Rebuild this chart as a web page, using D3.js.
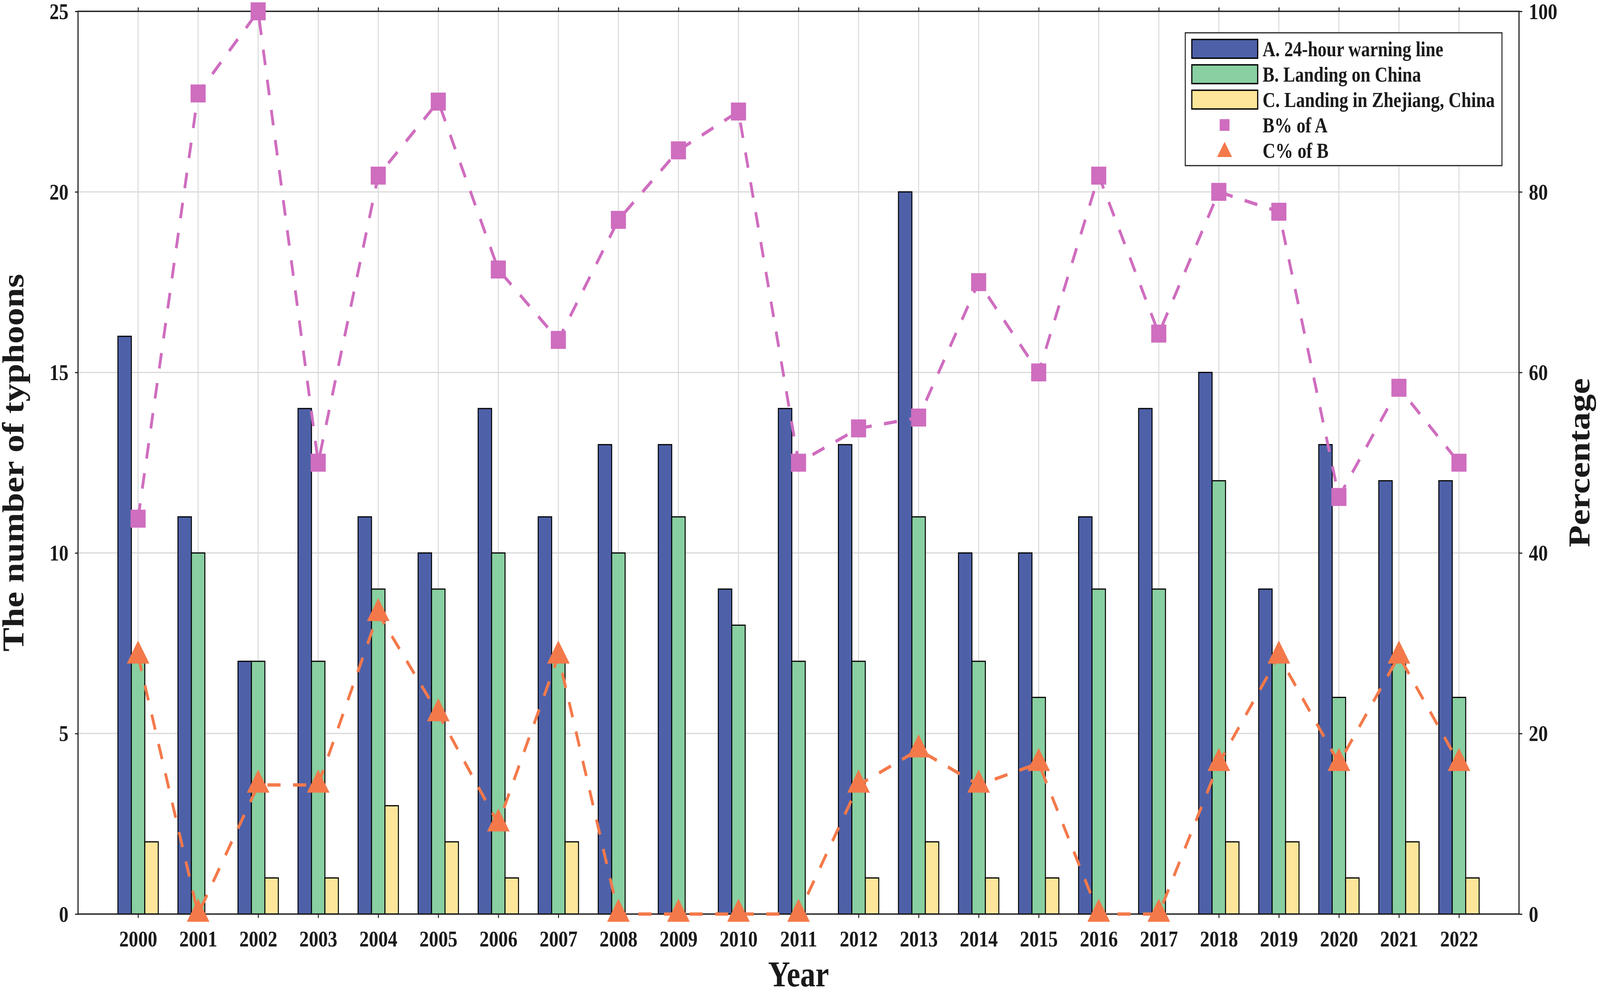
<!DOCTYPE html>
<html>
<head>
<meta charset="utf-8">
<script src="https://cdn.jsdelivr.net/npm/d3@7"></script>
<style>
  html, body { margin: 0; padding: 0; background: #fff; overflow: hidden; }
  #chart svg { display: block; width: 100vw; height: 100vh; }
  text { font-family: "Liberation Serif", "Times New Roman", serif; font-weight: bold; fill: #1a1a1a; }
</style>
</head>
<body>
<div id="chart"></div>
<script>
// Data
const years = [2000, 2001, 2002, 2003, 2004, 2005, 2006, 2007, 2008, 2009, 2010, 2011,
               2012, 2013, 2014, 2015, 2016, 2017, 2018, 2019, 2020, 2021, 2022];
// A. 24-hour warning line
const warningLine = [16, 11, 7, 14, 11, 10, 14, 11, 13, 13, 9, 14, 13, 20, 10, 10, 11, 14, 15, 9, 13, 12, 12];
// B. Landing on China
const landingChina = [7, 10, 7, 7, 9, 9, 10, 7, 10, 11, 8, 7, 7, 11, 7, 6, 9, 9, 12, 7, 6, 7, 6];
// C. Landing in Zhejiang
const landingZhejiang = [2, 0, 1, 1, 3, 2, 1, 2, 0, 0, 0, 0, 1, 2, 1, 1, 0, 0, 2, 2, 1, 2, 1];
// B% of A
const pctBofA = [43.8, 90.9, 100, 50, 81.8, 90, 71.4, 63.6, 76.9, 84.6, 88.9, 50,
                 53.8, 55, 70, 60, 81.8, 64.3, 80, 77.8, 46.2, 58.3, 50];
// C% of B
const pctCofB = [28.6, 0, 14.3, 14.3, 33.3, 22.2, 10, 28.6, 0, 0, 0, 0,
                 14.3, 18.2, 14.3, 16.7, 0, 0, 16.7, 28.6, 16.7, 28.6, 16.7];
const leftTicks = [0, 5, 10, 15, 20, 25];
const rightTicks = [0, 20, 40, 60, 80, 100];

const barSeries = [
  { key: "A", name: "A. 24-hour warning line", values: warningLine, color: "#4E61A8" },
  { key: "B", name: "B. Landing on China", values: landingChina, color: "#88CFA1" },
  { key: "C", name: "C. Landing in Zhejiang, China", values: landingZhejiang, color: "#FDE69A" }
];
const lineSeries = [
  { key: "BA", name: "B% of A", values: pctBofA, color: "#CF6DBF", marker: "square" },
  { key: "CB", name: "C% of B", values: pctCofB, color: "#F4794A", marker: "triangle" }
];

// **Canvas: drawn in 4880x2537 units, stretched to fill the window
const width = 4880, height = 2537;
const plotLeft = 238, plotRight = 4633, plotTop = 29, plotBottom = 2340;

const svg = d3.select("#chart").append("svg")
  .attr("viewBox", `0 0 ${width} ${height}`)
  .attr("preserveAspectRatio", "none")
  .style("background", "#fff");

// **Scales
const x = d3.scaleLinear().domain([1999, 2023]).range([plotLeft, plotRight]);
const yLeft = d3.scaleLinear().domain([0, 25]).range([plotBottom, plotTop]);
const yRight = d3.scaleLinear().domain([0, 100]).range([plotBottom, plotTop]);
// position of each bar inside a year group
const inner = d3.scaleBand().domain(barSeries.map(s => s.key)).range([-61.5, 61.5]);

// **Grid
const grid = svg.append("g").attr("stroke", "#d9d9d9").attr("stroke-width", 3);
grid.selectAll("line.v").data(years).join("line")
  .attr("class", "v")
  .attr("x1", d => x(d)).attr("x2", d => x(d))
  .attr("y1", plotTop).attr("y2", plotBottom);
grid.selectAll("line.h").data(leftTicks.slice(1, -1)).join("line")
  .attr("class", "h")
  .attr("x1", plotLeft).attr("x2", plotRight)
  .attr("y1", d => yLeft(d)).attr("y2", d => yLeft(d));

// **Bars
barSeries.forEach(s => {
  svg.append("g").selectAll("rect")
    .data(s.values.map((v, i) => ({ year: years[i], v })))
    .join("rect")
    .attr("x", d => x(d.year) + inner(s.key))
    .attr("width", inner.bandwidth())
    .attr("y", d => yLeft(d.v))
    .attr("height", d => yLeft(0) - yLeft(d.v))
    .attr("fill", s.color)
    .attr("stroke", "#000")
    .attr("stroke-width", d => d.v > 0 ? 3 : 0);
});

// **Axes
const styleAxis = (g) => {
  g.select(".domain").remove();
  g.selectAll(".tick line").attr("stroke", "#222").attr("stroke-width", 3);
  g.selectAll("text").style("font-size", "58px").attr("fill", "#1a1a1a");
};
svg.append("g")
  .attr("transform", `translate(0,${plotBottom})`)
  .call(d3.axisBottom(x).tickValues(years).tickFormat(d3.format("d")).tickSize(10).tickSizeOuter(0))
  .call(styleAxis)
  .call(g => g.selectAll("text").attr("y", 83).attr("dy", 0));
svg.append("g")
  .attr("transform", `translate(0,${plotTop})`)
  .call(d3.axisTop(x).tickValues(years).tickFormat("").tickSize(10).tickSizeOuter(0))
  .call(styleAxis);
svg.append("g")
  .attr("transform", `translate(${plotLeft},0)`)
  .call(d3.axisLeft(yLeft).tickValues(leftTicks).tickSize(9).tickSizeOuter(0))
  .call(styleAxis)
  .call(g => g.selectAll("text").attr("x", -29).attr("dy", "0.33em"));
svg.append("g")
  .attr("transform", `translate(${plotRight},0)`)
  .call(d3.axisRight(yRight).tickValues(rightTicks).tickSize(10).tickSizeOuter(0))
  .call(styleAxis)
  .call(g => g.selectAll("text").attr("x", 30).attr("dy", "0.33em"));

// frame (spines)
svg.append("rect")
  .attr("x", plotLeft).attr("y", plotTop)
  .attr("width", plotRight - plotLeft).attr("height", plotBottom - plotTop)
  .attr("fill", "none").attr("stroke", "#222").attr("stroke-width", 3.5);

// **Axis titles
svg.append("text")
  .attr("transform", `translate(72,${(plotTop + plotBottom) / 2}) rotate(-90)`)
  .attr("text-anchor", "middle")
  .style("font-size", "92px")
  .text("The number of typhoons");
svg.append("text")
  .attr("transform", `translate(4848,${(plotTop + plotBottom) / 2}) rotate(-90)`)
  .attr("text-anchor", "middle")
  .style("font-size", "92px")
  .text("Percentage");
svg.append("text")
  .attr("x", (plotLeft + plotRight) / 2).attr("y", 2525)
  .attr("text-anchor", "middle")
  .style("font-size", "93px")
  .text("Year");

// **Markers: triangle centred on its centroid, like the reference
const triPath = (w, h) => `M0,${-2 * h / 3}L${w / 2},${h / 3}L${-w / 2},${h / 3}Z`;
const drawMarker = (g, type, size, color) => {
  if (type === "square") {
    g.append("rect").attr("x", -size / 2).attr("y", -size / 2)
      .attr("width", size).attr("height", size).attr("fill", color);
  } else {
    g.append("path").attr("d", triPath(size * 1.17, size)).attr("fill", color);
  }
};

// **Percentage lines
lineSeries.forEach(s => {
  const pts = s.values.map((v, i) => ({ year: years[i], v }));
  const line = d3.line().x(d => x(d.year)).y(d => yRight(d.v));
  svg.append("path")
    .datum(pts)
    .attr("d", line)
    .attr("fill", "none")
    .attr("stroke", s.color)
    .attr("stroke-width", 8.5)
    .attr("stroke-dasharray", "40,38");
  svg.append("g").selectAll("g")
    .data(pts).join("g")
    .attr("transform", d => `translate(${x(d.year)},${yRight(d.v)})`)
    .each(function () { drawMarker(d3.select(this), s.marker, s.marker === "square" ? 46 : 59, s.color); });
});

// **Legend
const legend = svg.append("g").attr("transform", "translate(3615,84)");
legend.append("rect")
  .attr("width", 966).attr("height", 340)
  .attr("fill", "#fff").attr("stroke", "#222").attr("stroke-width", 3);
const rowY = d3.scalePoint().domain(d3.range(5)).range([41, 301]);
barSeries.forEach((s, i) => {
  legend.append("rect")
    .attr("x", 20).attr("y", rowY(i) - 24)
    .attr("width", 201).attr("height", 48)
    .attr("fill", s.color).attr("stroke", "#000").attr("stroke-width", 3.5);
  legend.append("text")
    .attr("x", 236).attr("y", rowY(i) + 19)
    .style("font-size", "54px")
    .text(s.name);
});
lineSeries.forEach((s, j) => {
  const i = j + 3;
  const g = legend.append("g").attr("transform", `translate(120,${rowY(i) + (s.marker === "triangle" ? 4 : 0)})`);
  drawMarker(g, s.marker, s.marker === "square" ? 30 : 39, s.color);
  legend.append("text")
    .attr("x", 236).attr("y", rowY(i) + 19)
    .style("font-size", "54px")
    .text(s.name);
});
</script>
</body>
</html>
